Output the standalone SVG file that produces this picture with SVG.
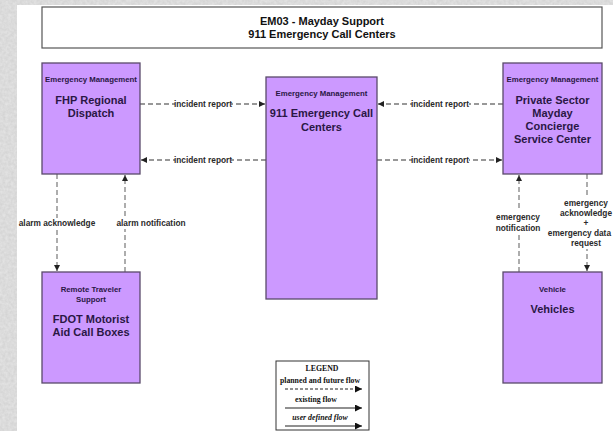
<svg xmlns="http://www.w3.org/2000/svg" width="613" height="431" viewBox="0 0 613 431">
<style>
.node rect{fill:#cc99ff;stroke:#5a4a6a;stroke-width:1.3}
.t{font-family:"Liberation Sans",Arial,sans-serif;font-weight:bold;fill:#2a1745;text-anchor:middle}
.sm{font-size:7.8px}
.lg{font-size:11px}
.lbl{font-family:"Liberation Sans",Arial,sans-serif;font-weight:bold;font-size:8.3px;fill:#2a2a2a;text-anchor:middle}
.h{stroke:#333;stroke-width:1.2;stroke-dasharray:5,3;fill:none}
.v{stroke:#777;stroke-width:1.2;stroke-dasharray:5,3;fill:none}
.bg{fill:#fff}
.leg{font-family:"Liberation Serif","Times New Roman",serif;font-weight:bold;font-size:7.8px;fill:#111;text-anchor:middle}
</style>
<defs>
<filter id="stone" x="0" y="0" width="100%" height="100%">
<feTurbulence type="fractalNoise" baseFrequency="0.35" numOctaves="2" seed="3"/>
<feColorMatrix type="matrix" values="0 0 0 0 0.78  0 0 0 0 0.78  0 0 0 0 0.78  0 0 0 -1.2 1.1"/>
</filter>
<marker id="ah" markerUnits="userSpaceOnUse" markerWidth="7" markerHeight="6" refX="6" refY="3" orient="auto">
<path d="M0,0 L6,3 L0,6 z" fill="#222"/>
</marker>
<marker id="lah" markerUnits="userSpaceOnUse" markerWidth="8" markerHeight="7" refX="7" refY="3.5" orient="auto">
<path d="M0,0 L7,3.5 L0,7 z" fill="#111"/>
</marker>
</defs>
<rect x="0" y="0" width="613" height="431" fill="#d2d2d2"/>
<rect x="0" y="0" width="613" height="431" filter="url(#stone)"/>
<rect x="17" y="5" width="596" height="426" fill="#fff"/>

<g id="title">
<rect x="42" y="7" width="560" height="41" fill="#fff" stroke="#555" stroke-width="1.2"/>
<text class="t lg" x="322" y="25" style="fill:#111">EM03 - Mayday Support</text>
<text class="t lg" x="322" y="38" style="fill:#111">911 Emergency Call Centers</text>
</g>

<g id="connectors">
<path class="h" d="M140,104 H265" marker-end="url(#ah)"/>
<path class="h" d="M266,160 H141" marker-end="url(#ah)"/>
<path class="h" d="M503,104 H378" marker-end="url(#ah)"/>
<path class="h" d="M377,160 H502" marker-end="url(#ah)"/>
<path class="v" d="M57,174 V271" marker-end="url(#ah)"/>
<path class="v" d="M125,272 V175" marker-end="url(#ah)"/>
<path class="v" d="M519,272 V175" marker-end="url(#ah)"/>
<path class="v" d="M587,174 V271" marker-end="url(#ah)"/>
<rect class="bg" x="175" y="99" width="56" height="10"/>
<text class="lbl" x="203" y="107">incident report</text>
<rect class="bg" x="175" y="155" width="56" height="10"/>
<text class="lbl" x="203" y="163">incident report</text>
<rect class="bg" x="412" y="99" width="57" height="10"/>
<text class="lbl" x="440" y="107">incident report</text>
<rect class="bg" x="412" y="155" width="57" height="10"/>
<text class="lbl" x="440" y="163">incident report</text>
<rect class="bg" x="18" y="218" width="78" height="11"/>
<text class="lbl" x="57" y="226">alarm acknowledge</text>
<rect class="bg" x="114" y="218" width="74" height="11"/>
<text class="lbl" x="151" y="226">alarm notification</text>
<rect class="bg" x="493" y="211" width="51" height="24"/>
<text class="lbl" x="518" y="220">emergency</text>
<text class="lbl" x="518" y="231">notification</text>
<rect class="bg" x="550" y="197" width="63" height="52"/>
<text class="lbl" x="586" y="206">emergency</text>
<text class="lbl" x="586" y="216">acknowledge</text>
<text class="lbl" x="586" y="226">+</text>
<text class="lbl" x="611" y="236" text-anchor="end" style="text-anchor:end">emergency data</text>
<text class="lbl" x="586" y="246">request</text>
</g>

<g id="fhp" class="node">
<rect x="42" y="63" width="98" height="111"/>
<text class="t sm" x="91" y="82">Emergency Management</text>
<text class="t lg" x="91" y="104">FHP Regional</text>
<text class="t lg" x="91" y="117">Dispatch</text>
</g>

<g id="c911" class="node">
<rect x="266" y="77" width="111" height="222"/>
<text class="t sm" x="321.5" y="96">Emergency Management</text>
<text class="t lg" x="321.5" y="117">911 Emergency Call</text>
<text class="t lg" x="321.5" y="131">Centers</text>
</g>

<g id="private" class="node">
<rect x="503" y="63" width="99" height="111"/>
<text class="t sm" x="552.5" y="82">Emergency Management</text>
<text class="t lg" x="552.5" y="104">Private Sector</text>
<text class="t lg" x="552.5" y="117">Mayday</text>
<text class="t lg" x="552.5" y="130">Concierge</text>
<text class="t lg" x="552.5" y="143">Service Center</text>
</g>

<g id="fdot" class="node">
<rect x="42" y="272" width="98" height="111"/>
<text class="t sm" x="91" y="292">Remote Traveler</text>
<text class="t sm" x="91" y="302">Support</text>
<text class="t lg" x="91" y="323">FDOT Motorist</text>
<text class="t lg" x="91" y="336">Aid Call Boxes</text>
</g>

<g id="vehicles" class="node">
<rect x="503" y="272" width="99" height="111"/>
<text class="t sm" x="552.5" y="292">Vehicle</text>
<text class="t lg" x="552.5" y="313">Vehicles</text>
</g>

<g id="legend">
<rect x="276" y="361" width="93" height="69" fill="#fff" stroke="#333" stroke-width="1"/>
<text class="leg" x="322" y="371">LEGEND</text>
<text class="leg" x="320" y="383">planned and future flow</text>
<path d="M285,389 H362" stroke="#222" stroke-width="1" stroke-dasharray="3,2" fill="none" marker-end="url(#lah)"/>
<text class="leg" x="316" y="402">existing flow</text>
<path d="M285,408 H362" stroke="#222" stroke-width="1.2" fill="none" marker-end="url(#lah)"/>
<text class="leg" x="320" y="420" font-style="italic">user defined flow</text>
<path d="M285,426 H362" stroke="#222" stroke-width="1.2" fill="none" marker-end="url(#lah)"/>
</g>
</svg>
